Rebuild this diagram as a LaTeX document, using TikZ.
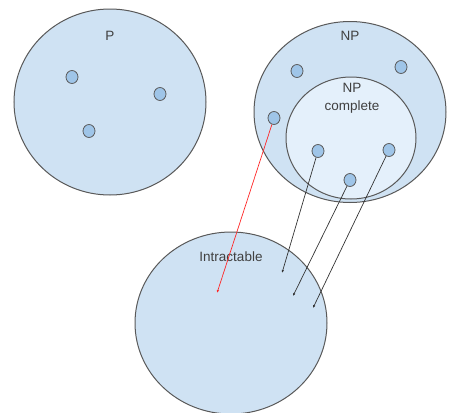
\documentclass[tikz,border=0pt]{standalone}
\usepackage{fontspec}
\setmainfont{Liberation Sans}
\usetikzlibrary{arrows.meta,shapes.geometric}
\definecolor{setfill}{HTML}{CFE2F3}
\definecolor{innerfill}{HTML}{E4F0FB}
\definecolor{dotfill}{HTML}{9FC5E8}
\definecolor{edge}{HTML}{595959}
\definecolor{txt}{HTML}{404040}
\tikzset{
  setcirc/.style={draw=edge, line width=1pt, fill=setfill, ellipse},
  elem/.style={draw=edge, line width=0.8pt, fill=dotfill, ellipse, minimum width=12pt, minimum height=13pt, inner sep=0pt},
  lbl/.style={text=txt, font=\fontsize{13.5}{18}\selectfont, align=center},
  arr/.style={draw=black!80, line width=0.7pt, -{Latex[length=3pt,width=2.5pt]}},
  redarr/.style={draw=red!85, line width=0.7pt, -{Latex[length=3pt,width=2.5pt]}}
}
\begin{document}
\begin{tikzpicture}[x=1pt,y=-1pt]
\useasboundingbox (0,0) rectangle (451,413);
% P
\node[setcirc, minimum width=192pt, minimum height=186pt] (P) at (110,102) {};
\node[lbl] (Plbl) at (110,36) {P};
\node[elem] (p1) at (72,77) {};
\node[elem] (p2) at (160,94) {};
\node[elem] (p3) at (89,131) {};
% NP
\node[setcirc, minimum width=192pt, minimum height=181pt] (NP) at (350,112) {};
\node[lbl] (NPlbl) at (350,36) {NP};
\node[elem] (n1) at (297,71) {};
\node[elem] (n2) at (401,67) {};
\node[elem] (n3) at (274,118) {};
% NP complete
\node[draw=edge, line width=1pt, fill=innerfill, ellipse, minimum width=130pt, minimum height=122pt] (NPC) at (351,138) {};
\node[lbl] (NPClbl) at (352,98.5) {NP\\complete};
\node[elem] (c1) at (318,151) {};
\node[elem] (c2) at (389,150) {};
\node[elem] (c3) at (350,180) {};
% Intractable
\node[setcirc, minimum width=192pt, minimum height=182pt] (I) at (231,323) {};
\node[lbl] (Ilbl) at (231,257) {Intractable};
\coordinate (t0) at (217,293);
\coordinate (t1) at (282,273);
\coordinate (t2) at (293,296);
\coordinate (t3) at (313,308);
\draw[redarr] (n3) -- (t0);
\draw[arr] (c1) -- (t1);
\draw[arr] (c3) -- (t2);
\draw[arr] (c2) -- (t3);
\end{tikzpicture}
\end{document}
